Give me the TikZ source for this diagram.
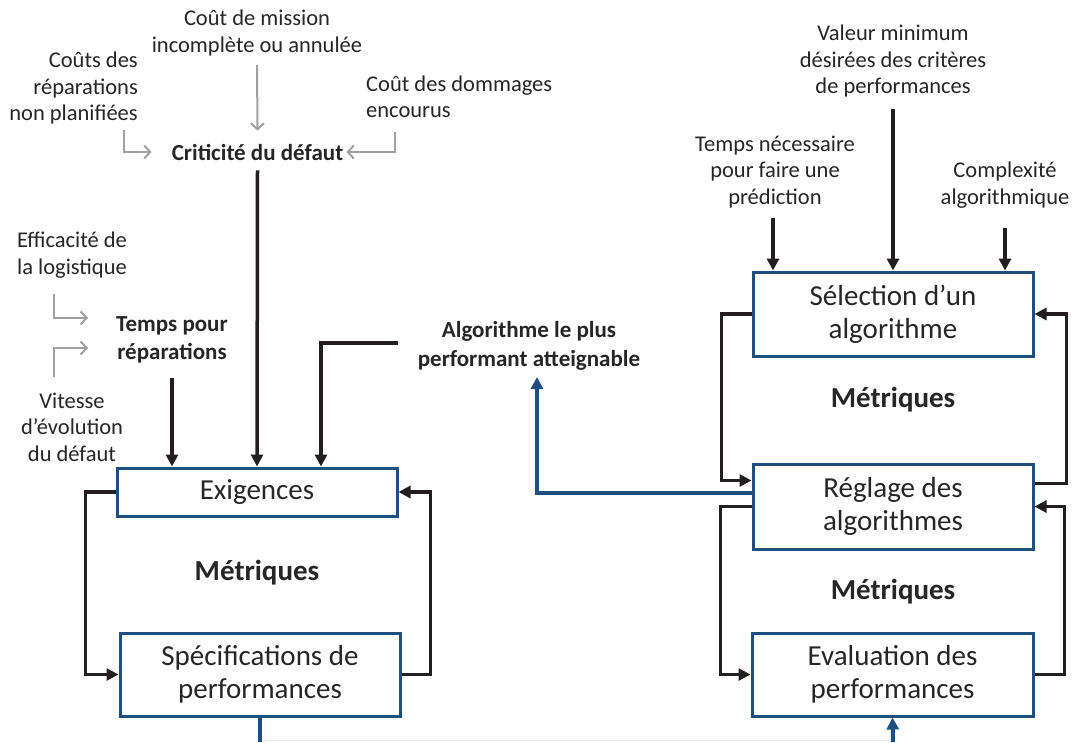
\documentclass[tikz,border=0pt]{standalone}
\usepackage{fontspec}
\setmainfont{Carlito}
\usetikzlibrary{arrows.meta}
\definecolor{bluebox}{RGB}{31,78,128}
\definecolor{txt}{RGB}{38,38,38}
\definecolor{blk}{RGB}{35,31,32}
\definecolor{gryarrow}{RGB}{160,160,160}
\begin{document}
\begin{tikzpicture}[x=1pt,y=-1pt,
  box/.style={draw=bluebox,line width=3pt,fill=white,align=center,text=txt,font=\fontsize{29}{33}\selectfont,inner sep=0pt},
  lbl/.style={align=center,text=txt,font=\fontsize{22.5}{26.5}\selectfont,inner sep=0pt},
  blbl/.style={align=center,text=txt,font=\fontsize{23}{28.5}\selectfont\bfseries,inner sep=0pt},
  met/.style={text=txt,font=\fontsize{29}{33}\selectfont\bfseries,inner sep=0pt},
  blkarr/.style={draw=blk,line width=3.5pt,-{Triangle[length=12pt,width=12pt]}},
  blkline/.style={draw=blk,line width=3.5pt},
  bluarr/.style={draw=bluebox,line width=4pt,-{Triangle[length=12pt,width=12pt]}},
  bluline/.style={draw=bluebox,line width=4pt},
  gryarr/.style={draw=gryarrow,line width=2pt,-{Straight Barb[length=6pt,width=13pt]}}
]
\fill[white] (0,0) rectangle (1075,742);
\useasboundingbox (0,0) rectangle (1075,742);

% boxes
\node[box,minimum width=280pt,minimum height=48pt] (exi) at (257,492) {Exigences};
\node[box,minimum width=280pt,minimum height=83pt] (spec) at (260,674.5) {Spécifications de\\performances};
\node[box,minimum width=280pt,minimum height=84pt] (sel) at (893,314) {Sélection d’un\\algorithme};
\node[box,minimum width=280pt,minimum height=85pt] (reg) at (893,506.5) {Réglage des\\algorithmes};
\node[box,minimum width=281pt,minimum height=83pt] (eva) at (892.5,674.5) {Evaluation des\\performances};

% metrics labels
\node[met] (met1) at (257,573) {Métriques};
\node[met] (met2) at (893,400) {Métriques};
\node[met] (met3) at (893,592) {Métriques};

% left text labels
\node[lbl] (cm) at (257,33) {Coût de mission\\incomplète ou annulée};
\node[lbl,align=right,anchor=east] (crp) at (138,88) {Coûts des\\réparations\\non planifiées};
\node[lbl,align=left,anchor=west] (cdd) at (366,97) {Coût des dommages\\encourus};
\node[blbl] (crit) at (257.5,152) {Criticité du défaut};
\node[lbl] (eff) at (72,255) {Efficacité de\\la logistique};
\node[blbl] (tpr) at (172,340) {Temps pour\\réparations};
\node[lbl] (vit) at (72,427) {Vitesse\\d’évolution\\du défaut};
\node[blbl] (alg) at (529,346) {Algorithme le plus\\performant atteignable};

% right text labels
\node[lbl] (vm) at (893,61) {Valeur minimum\\désirées des critères\\de performances};
\node[lbl] (tnp) at (775,172) {Temps nécessaire\\pour faire une\\prédiction};
\node[lbl] (cx) at (1005,185) {Complexité\\algorithmique};

% gray arrows
\coordinate (g1a) at (124,130);
\coordinate (g2a) at (395,132);
\draw[gryarr] ([yshift=-9pt]cm.south) -- ([yshift=13pt]crit.north);
\draw[gryarr] (g1a) |- ([xshift=-20pt]crit.west);
\draw[gryarr] (g2a) |- ([xshift=3pt]crit.east);
\coordinate (g3a) at (54,294);
\coordinate (g3b) at (88,318);
\coordinate (g4a) at (54,377);
\coordinate (g4b) at (88,348);
\draw[gryarr] (g3a) |- (g3b);
\draw[gryarr] (g4a) |- (g4b);

% black arrows into Exigences
\coordinate (tprb) at ([yshift=-14pt]tpr.south);
\draw[blkarr] (tprb) -- (tprb |- exi.north);
\draw[blkarr] ([yshift=-10pt]crit.south) -- (exi.north);
\draw[blkarr] ([xshift=-20pt,yshift=3pt]alg.west) -| ([xshift=64pt]exi.north);

% left loop
\draw[blkarr] (exi.west) -- ++(-30,0) |- (spec.west);
\draw[blkarr] (spec.east) -- ++(29,0) |- (exi.east);

% black arrows into Selection
\coordinate (tnpb) at ([yshift=-10pt]tnp.south);
\coordinate (cxb) at ([yshift=-20pt]cx.south);
\draw[blkarr] ([yshift=-12pt]vm.south) -- (sel.north);
\draw[blkarr] ([xshift=-2pt]tnpb) -- ([xshift=-2pt]tnpb |- sel.north);
\draw[blkarr] (cxb) -- (cxb |- sel.north);

% right loops
\draw[blkarr] (sel.west) -- ++(-30,0) |- ([yshift=26pt]reg.west);
\draw[blkarr] ([yshift=23pt]reg.east) -- ++(32,0) |- (sel.east);
\draw[blkarr] (reg.west) -- ++(-31,0) |- (eva.west);
\draw[blkarr] (eva.east) -- ++(30,0) |- (reg.east);

% blue connectors
\coordinate (algtip) at (537,377);
\draw[bluarr] ([yshift=14pt]reg.west) -| (algtip);
\coordinate (b1) at (260,742);
\coordinate (b2) at (893,742);
\draw[black!8,line width=1pt] ([yshift=1.5pt]b1) -- ([yshift=1.5pt]b2);
\draw[bluline] (spec.south) -- (b1);
\draw[bluarr] (b2) -- (eva.south);
\end{tikzpicture}
\end{document}
